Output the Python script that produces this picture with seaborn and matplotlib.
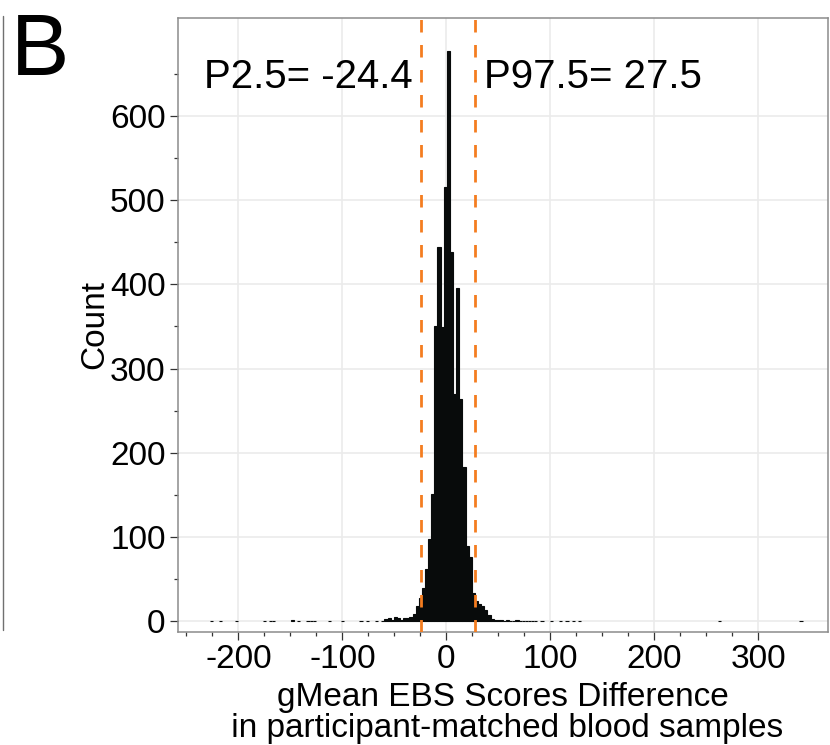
import numpy as np
import pandas as pd
import matplotlib
matplotlib.use("Agg")
import matplotlib.pyplot as plt
from matplotlib.lines import Line2D
from matplotlib.ticker import FixedLocator
import seaborn as sns

# bin centres (binwidth 3) and counts
diff_centers = [-227, -218, -203, -176, -170, -167, -149, -143, -134, -131, -128,
                -113, -101, -83, -77, -68, -62, -59, -56, -53, -50, -47, -44,
                -41, -38, -35, -32, -29, -26, -23, -20, -17, -14, -11, -8, -5,
                -2, 1, 4, 7, 10, 13, 16, 19, 22, 25, 28, 31, 34, 37, 40, 43,
                46, 49, 52, 55, 58, 61, 64, 67, 70, 73, 76, 79, 82, 85, 91,
                100, 109, 115, 121, 127, 262, 340]
counts = [1, 1, 1, 1, 1, 1, 2, 1, 1, 1, 1,
          1, 1, 1, 1, 1, 1, 3, 4, 2, 5, 4, 2,
          4, 4, 5, 9, 18, 28, 40, 62, 98, 151, 351, 444, 349,
          516, 677, 438, 270, 396, 264, 183, 90, 76, 34, 24, 21, 18, 14, 8, 3,
          2, 2, 2, 1, 2, 1, 1, 2, 1, 1, 1, 1, 1, 1, 1,
          1, 1, 1, 1, 1, 1, 1]
p_low, p_high = -24.4, 27.5
x_major = [-200, -100, 0, 100, 200, 300]
y_major = [0, 100, 200, 300, 400, 500, 600]

df = pd.DataFrame({"diff": diff_centers, "n": counts})

sns.set_style("white")
plt.rcParams['font.family'] = ['Liberation Sans', 'DejaVu Sans']
plt.rcParams['text.color'] = 'black'
plt.rcParams['axes.labelcolor'] = 'black'

fig = plt.figure(figsize=(8.3, 7.45), dpi=100)
ax = fig.add_axes([178 / 830, 1 - 632 / 745, 650 / 830, 614 / 745])

edges = list(np.arange(-230.5, 346, 3))
sns.histplot(data=df, x="diff", weights="n", bins=edges, color="#080b0b",
             alpha=1, edgecolor="#080b0b", linewidth=0.8, ax=ax, zorder=2)
# empty bins would otherwise leave a thin outline along the baseline
for p in ax.patches:
    if p.get_height() == 0:
        p.set_visible(False)

for v in (p_low, p_high):
    ax.axvline(v, color="#f47d20", lw=2, dashes=(4.5, 4.5), zorder=3)

ax.set_xlim(-258, 367)
ax.set_ylim(-12.5, 716)

ax.xaxis.set_major_locator(FixedLocator(x_major))
ax.xaxis.set_minor_locator(FixedLocator([v for v in range(-250, 301, 25) if v % 100]))
ax.yaxis.set_major_locator(FixedLocator(y_major))
ax.yaxis.set_minor_locator(FixedLocator(list(range(50, 651, 100))))
ax.set_xticklabels([str(v) for v in x_major])
ax.set_yticklabels([str(v) for v in y_major])

ax.grid(True, which="major", color="#ebebeb", lw=1.2, zorder=0)
ax.set_axisbelow(True)
for s in ax.spines.values():
    s.set_color("#8c8c8c")
    s.set_linewidth(1.1)

ax.tick_params(which="major", direction="out", length=6, width=0.9, color="#333333",
               labelsize=24, pad=3, bottom=True, left=True, labelcolor="black")
ax.tick_params(which="minor", direction="out", length=3, width=0.9, color="#333333",
               bottom=True, left=True)

ax.set_ylabel("Count", fontsize=24, color="black")
ax.yaxis.set_label_coords(-0.128, 0.5)
ax.yaxis.label.set_verticalalignment("center")
ax.set_xlabel("gMean EBS Scores Difference\n in participant-matched blood samples",
              fontsize=24, linespacing=0.97, labelpad=5, color="black")

ax.text(-32.5, 633, f"P2.5= {p_low}", fontsize=29, ha="right", va="baseline",
        color="black")
ax.text(36, 633, f"P97.5= {p_high}", fontsize=29, ha="left", va="baseline",
        color="black")

fig.text(11 / 830, 1 - 75 / 745, "B", fontsize=63, ha="left", va="baseline",
         color="black")
fig.add_artist(Line2D([2.5 / 830, 2.5 / 830], [1 - 16 / 745, 1 - 630 / 745],
                      color="#707070", lw=1))

fig.savefig("out.png", dpi=100)
